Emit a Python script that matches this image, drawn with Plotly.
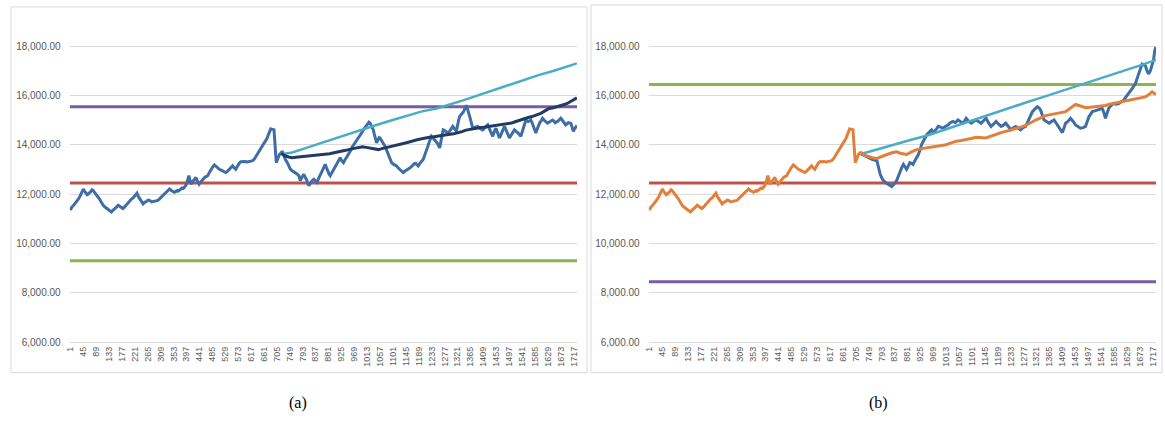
import plotly.graph_objects as go

# ---------------- data ----------------
# shared history (days 1..720), identical in both panels
hist_day = [1, 6, 12, 17, 22, 28, 33, 39, 45, 49, 53, 58, 62, 66, 70, 75, 79, 84, 88, 92, 96, 101, 105,
            109, 113, 119, 125, 133, 141, 146, 152, 158, 164, 170, 175, 180, 186, 190, 195, 199,
            203, 209, 215, 221, 228, 233, 238, 244, 249, 255, 260, 266, 271, 278, 285, 292, 299, 304,
            308, 312, 316, 322, 328, 334, 339, 344, 348, 352, 356, 361, 365, 369, 373, 378, 382, 386,
            390, 394, 398, 402, 405, 409, 412, 416, 420, 425, 429, 432, 435, 438, 440, 443, 446, 449,
            452, 456, 460, 465, 469, 475, 480, 486, 492, 496, 500, 505, 509, 515, 520, 526, 531, 537,
            542, 548, 554, 557, 560, 563, 565, 569, 573, 578, 582, 589, 596, 603, 610, 615, 620, 624,
            627, 632, 638, 643, 647, 651, 655, 659, 663, 668, 672, 675, 678, 681, 684, 687, 690, 693,
            695, 697, 699, 701, 703, 706, 708, 710, 712, 715, 717, 720]
hist_val = [11350, 11480, 11550, 11620, 11680, 11800, 11900, 12080, 12210, 12130, 12050, 11980, 12010,
            12080, 12100, 12180, 12150, 12060, 12000, 11950, 11880, 11790, 11700, 11610, 11550, 11480,
            11420, 11330, 11280, 11350, 11400, 11470, 11550, 11500, 11450, 11420, 11480, 11540, 11600,
            11680, 11750, 11800, 11850, 11960, 12040, 11900, 11800, 11680, 11610, 11680, 11700, 11760,
            11750, 11690, 11700, 11730, 11750, 11800, 11850, 11900, 11950, 12040, 12100, 12170, 12210,
            12160, 12120, 12100, 12080, 12120, 12150, 12130, 12170, 12220, 12250, 12230, 12280, 12350,
            12450, 12600, 12750, 12550, 12410, 12480, 12550, 12620, 12680, 12580, 12500, 12450, 12410,
            12460, 12500, 12560, 12610, 12660, 12700, 12720, 12750, 12880, 13000, 13100, 13190, 13140,
            13100, 13050, 13010, 12980, 12950, 12900, 12880, 12940, 13000, 13080, 13150, 13100, 13050,
            13030, 13010, 13100, 13200, 13280, 13320, 13340, 13330, 13310, 13320, 13330, 13350, 13380,
            13410, 13500, 13610, 13700, 13800, 13880, 13950, 14020, 14100, 14200, 14280, 14380, 14500,
            14580, 14650, 14640, 14620, 14630, 14650, 14350, 14000, 13650, 13280, 13380, 13450, 13530,
            13610, 13640, 13650, 13680]

# panel (a): actual after day 720
a_act_day = [723, 729, 734, 740, 745, 751, 757, 762, 768, 774, 780, 785, 791, 797, 801, 806, 810, 814,
             818, 822, 826, 831, 836, 842, 846, 850, 855, 859, 864, 870, 874, 878, 883, 887,
             892, 896, 900, 904, 909, 913, 917, 921, 926, 932, 936, 940, 945, 949, 954, 958, 962, 966,
             971, 975, 979, 983, 988, 992, 996, 1000, 1005, 1010, 1015, 1019, 1023, 1027, 1031, 1034,
             1037, 1040, 1043, 1045, 1048, 1051, 1054, 1057, 1061, 1065, 1070, 1074, 1080, 1085, 1090,
             1096, 1101, 1105, 1109, 1113, 1119, 1125, 1130, 1136, 1140, 1145, 1149, 1153, 1158, 1162,
             1166, 1170, 1174, 1178, 1183, 1187, 1191, 1195, 1200, 1204, 1207, 1210, 1213, 1215, 1220,
             1224, 1228, 1232, 1236, 1240, 1245, 1249, 1252, 1255, 1258, 1260, 1263, 1266, 1269, 1272,
             1276, 1280, 1285, 1289, 1293, 1297, 1301, 1305, 1308, 1311, 1314, 1317, 1320, 1322, 1325,
             1328, 1333, 1339, 1342, 1345, 1348, 1351, 1354, 1357, 1360, 1362, 1365, 1368, 1371, 1373,
             1377, 1381, 1386, 1390, 1394, 1398, 1403, 1407, 1411, 1415, 1420, 1424, 1428, 1432, 1437,
             1441, 1444, 1446, 1449, 1452, 1455, 1458, 1461, 1464, 1468, 1472, 1477, 1481, 1486, 1490,
             1494, 1498, 1502, 1506, 1511, 1515, 1520, 1526, 1532, 1537, 1541, 1545, 1550, 1554, 1558,
             1562, 1567, 1571, 1576, 1580, 1584, 1588, 1591, 1594, 1597, 1599, 1602, 1605, 1608, 1611,
             1616, 1620, 1624, 1628, 1633, 1637, 1641, 1645, 1650, 1654, 1658, 1662, 1667, 1673, 1677,
             1682, 1686, 1690, 1695, 1699, 1703, 1707, 1710, 1712, 1714, 1716, 1719, 1722, 1725, 1728]
a_act_val = [13750, 13560, 13410, 13300, 13150, 13020, 12950, 12920, 12880, 12820, 12750, 12550, 12700,
             12810, 12700, 12600, 12450, 12350, 12420, 12500, 12560, 12610, 12530, 12480, 12600, 12700,
             12800, 12880, 13050, 13210, 13080, 12950, 12820, 12750, 12860, 12950, 13030, 13080, 13200,
             13300, 13400, 13480, 13360, 13280, 13370, 13450, 13530, 13610, 13700, 13800, 13920, 14010,
             14090, 14150, 14220, 14280, 14370, 14450, 14520, 14610, 14680, 14750, 14850, 14920, 14880,
             14800, 14700, 14610, 14450, 14300, 14180, 14080, 14170, 14250, 14300, 14280, 14180, 14100,
             14020, 13950, 13780, 13600, 13430, 13280, 13230, 13200, 13180, 13150, 13060, 13000, 12940,
             12880, 12920, 12950, 12980, 13010, 13060, 13100, 13160, 13210, 13240, 13250, 13200, 13150,
             13220, 13300, 13360, 13410, 13500, 13600, 13700, 13810, 13950, 14100, 14230, 14350, 14300,
             14250, 14200, 14150, 14070, 14000, 13940, 13880, 14050, 14300, 14450, 14610, 14590, 14550,
             14510, 14480, 14540, 14600, 14680, 14750, 14700, 14650, 14600, 14550, 14720, 14900, 15020,
             15150, 15220, 15280, 15360, 15450, 15530, 15610, 15500, 15400, 15300, 15210, 15050, 14900,
             14780, 14680, 14700, 14720, 14740, 14750, 14700, 14650, 14630, 14610, 14650, 14700, 14760,
             14810, 14700, 14600, 14480, 14350, 14450, 14550, 14620, 14680, 14560, 14450, 14360, 14280,
             14390, 14500, 14620, 14750, 14620, 14500, 14390, 14280, 14360, 14450, 14530, 14610, 14560,
             14500, 14430, 14350, 14520, 14700, 14850, 15010, 14980, 14950, 14980, 15010, 14880, 14750,
             14620, 14480, 14590, 14700, 14800, 14880, 14920, 14950, 15010, 15080, 15010, 14950, 14920,
             14880, 14920, 14950, 14980, 15010, 14960, 14900, 14930, 14950, 15010, 15080, 15020, 14950,
             14880, 14810, 14860, 14900, 14890, 14880, 14790, 14700, 14620, 14550, 14630, 14700, 14750,
             14790]

# panel (a): forecast (dark navy) and upper trend (cyan)
a_fc_day = [720, 728, 735, 745, 757, 770, 790, 810, 830, 850, 870, 885, 900, 920, 940, 960, 983, 997,
            1010, 1020, 1030, 1040, 1051, 1063, 1075, 1085, 1096, 1110, 1125, 1140, 1153, 1166, 1180,
            1195, 1209, 1225, 1240, 1253, 1266, 1280, 1295, 1308, 1322, 1336, 1350, 1365, 1379, 1395,
            1410, 1422, 1435, 1450, 1465, 1478, 1492, 1506, 1520, 1534, 1548, 1562, 1575, 1590, 1605,
            1619, 1633, 1648, 1662, 1671, 1680, 1688, 1695, 1703, 1710, 1719, 1728]
a_fc_val = [13650, 13590, 13550, 13510, 13480, 13500, 13520, 13540, 13560, 13590, 13610, 13640, 13680,
            13720, 13780, 13840, 13900, 13920, 13900, 13880, 13850, 13830, 13810, 13850, 13880, 13910,
            13950, 13990, 14020, 14070, 14110, 14160, 14200, 14240, 14280, 14310, 14330, 14360, 14390,
            14410, 14430, 14450, 14480, 14540, 14600, 14640, 14680, 14700, 14720, 14740, 14750, 14770,
            14800, 14820, 14840, 14890, 14950, 15010, 15080, 15110, 15150, 15210, 15280, 15380, 15480,
            15510, 15550, 15580, 15620, 15650, 15680, 15730, 15780, 15840, 15910]
a_trend_day = [720, 757, 800, 850, 900, 950, 983, 1050, 1100, 1150, 1200, 1250, 1275, 1300, 1350, 1400,
               1435, 1500, 1550, 1600, 1650, 1700, 1728]
a_trend_val = [13620, 13690, 13860, 14060, 14260, 14460, 14590, 14830, 15010, 15190, 15360, 15480, 15560,
               15660, 15850, 16050, 16200, 16450, 16650, 16840, 17010, 17200, 17310]
a_levels = {"purple": 15550, "red": 12450, "green": 9300}

# panel (b): actual after day 720
b_act_day = [720, 728, 737, 748, 760, 770, 777, 782, 788, 794, 799, 808, 816, 822, 827, 835, 844, 850,
             856, 862, 867, 872, 878, 884, 889, 895, 900, 908, 918, 924, 929, 935, 940, 946, 952, 958,
             963, 969, 974, 980, 986, 994, 1002, 1010, 1019, 1027, 1036, 1044, 1053, 1061, 1070, 1076,
             1081, 1090, 1098, 1106, 1115, 1123, 1132, 1140, 1149, 1157, 1166, 1175, 1183, 1191, 1200,
             1208, 1216, 1225, 1233, 1242, 1250, 1258, 1267, 1275, 1284, 1290, 1296, 1302, 1307, 1315,
             1324, 1330, 1335, 1341, 1347, 1355, 1364, 1372, 1381, 1390, 1398, 1404, 1409, 1415, 1420,
             1428, 1437, 1446, 1454, 1462, 1471, 1480, 1488, 1494, 1500, 1506, 1511, 1520, 1528, 1536,
             1545, 1551, 1556, 1562, 1567, 1575, 1584, 1592, 1601, 1610, 1618, 1626, 1635, 1641, 1647,
             1653, 1658, 1664, 1669, 1675, 1681, 1687, 1692, 1698, 1703, 1709, 1715, 1720, 1724, 1728]
b_act_val = [13680, 13600, 13550, 13480, 13410, 13380, 13350, 13100, 12810, 12650, 12550, 12450, 12410,
             12350, 12310, 12400, 12550, 12750, 12950, 13100, 13210, 13100, 13010, 13150, 13280, 13250,
             13210, 13400, 13610, 13800, 14010, 14150, 14280, 14400, 14480, 14550, 14610, 14500, 14550,
             14650, 14750, 14700, 14680, 14750, 14810, 14900, 14950, 14900, 15010, 14950, 14880, 14980,
             15080, 14950, 14880, 14950, 15010, 14950, 14880, 14980, 15080, 14900, 14750, 14850, 14950,
             14850, 14750, 14800, 14880, 14750, 14610, 14700, 14750, 14680, 14610, 14700, 14750, 14900,
             15080, 15250, 15350, 15450, 15550, 15500, 15410, 15200, 15010, 14950, 14880, 14950, 15010,
             14850, 14680, 14600, 14500, 14700, 14880, 14950, 15080, 14950, 14810, 14750, 14680, 14700,
             14750, 14950, 15150, 15250, 15350, 15380, 15410, 15450, 15480, 15300, 15080, 15300, 15480,
             15600, 15680, 15650, 15680, 15750, 15810, 15950, 16080, 16200, 16280, 16400, 16480, 16700,
             16880, 17100, 17280, 17250, 17210, 17000, 16880, 17000, 17210, 17450, 17810, 17980]

# panel (b): forecast (orange) and upper trend (cyan)
b_fc_day = [720, 730, 743, 760, 777, 795, 811, 828, 844, 860, 878, 895, 912, 930, 946, 963, 980, 997,
            1013, 1030, 1047, 1064, 1081, 1098, 1115, 1132, 1149, 1166, 1183, 1200, 1216, 1233, 1250,
            1267, 1284, 1300, 1318, 1335, 1352, 1369, 1386, 1403, 1420, 1437, 1454, 1471, 1488, 1505,
            1522, 1539, 1556, 1573, 1590, 1607, 1624, 1641, 1658, 1675, 1692, 1705, 1715, 1722, 1728]
b_fc_val = [13720, 13600, 13550, 13480, 13450, 13550, 13610, 13680, 13720, 13650, 13610, 13720, 13810,
            13850, 13880, 13920, 13950, 13980, 14010, 14080, 14150, 14180, 14210, 14260, 14310, 14290,
            14280, 14360, 14440, 14500, 14550, 14600, 14680, 14720, 14790, 14900, 15010, 15100, 15190,
            15230, 15280, 15300, 15350, 15500, 15640, 15580, 15510, 15530, 15550, 15560, 15600, 15660,
            15700, 15740, 15790, 15830, 15850, 15900, 15950, 16050, 16150, 16100, 16040]
b_trend_day = [720, 760, 833, 900, 946, 1000, 1059, 1120, 1172, 1230, 1285, 1340, 1398, 1455, 1511, 1570,
               1624, 1680, 1728]
b_trend_val = [13620, 13760, 13990, 14230, 14370, 14590, 14810, 15060, 15280, 15500, 15720, 15930, 16150,
               16390, 16610, 16830, 17020, 17250, 17450]
b_levels = {"green": 16450, "red": 12450, "purple": 8450}

tick_days = list(range(1, 1718, 44))
tick_labels = [str(d) for d in tick_days]
y_ticks = [6000, 8000, 10000, 12000, 14000, 16000, 18000]

# ---------------- styling ----------------
C_BLUE = "#3F6DA6"
C_NAVY = "#213C63"
C_CYAN = "#4BACC6"
C_ORANGE = "#E2803A"
C_PURPLE = "#7A5CA0"
C_RED = "#C0504D"
C_GREEN = "#8DB54B"
GRID = "#DADADA"
TXT = "#595959"

W, H = 1165, 423
fig = go.Figure()

def level_trace(val, color, xa, ya):
    return go.Scatter(x=[hist_day[0] - 2, a_act_day[-1] + 2], y=[val, val], mode="lines",
                      line=dict(color=color, width=3), xaxis=xa, yaxis=ya, hoverinfo="skip")

# panel (a)
fig.add_trace(level_trace(a_levels["purple"], C_PURPLE, "x", "y"))
fig.add_trace(level_trace(a_levels["red"], C_RED, "x", "y"))
fig.add_trace(level_trace(a_levels["green"], C_GREEN, "x", "y"))
fig.add_trace(go.Scatter(x=hist_day + a_act_day, y=hist_val + a_act_val, mode="lines",
                         line=dict(color=C_BLUE, width=3), xaxis="x", yaxis="y"))
fig.add_trace(go.Scatter(x=a_trend_day, y=a_trend_val, mode="lines",
                         line=dict(color=C_CYAN, width=2.5), xaxis="x", yaxis="y"))
fig.add_trace(go.Scatter(x=a_fc_day, y=a_fc_val, mode="lines",
                         line=dict(color=C_NAVY, width=3), xaxis="x", yaxis="y"))

# panel (b)
fig.add_trace(level_trace(b_levels["green"], C_GREEN, "x2", "y2"))
fig.add_trace(level_trace(b_levels["red"], C_RED, "x2", "y2"))
fig.add_trace(level_trace(b_levels["purple"], C_PURPLE, "x2", "y2"))
fig.add_trace(go.Scatter(x=b_act_day, y=b_act_val, mode="lines",
                         line=dict(color=C_BLUE, width=3), xaxis="x2", yaxis="y2"))
fig.add_trace(go.Scatter(x=b_trend_day, y=b_trend_val, mode="lines",
                         line=dict(color=C_CYAN, width=2.5), xaxis="x2", yaxis="y2"))
fig.add_trace(go.Scatter(x=hist_day + b_fc_day, y=hist_val + b_fc_val, mode="lines",
                         line=dict(color=C_ORANGE, width=3), xaxis="x2", yaxis="y2"))

y0 = (H - 347) / H
y1 = (H - 22) / H
xr = [-1.5, 1728.5]
yr = [6000, 19000]

xaxis_common = dict(range=xr, tickmode="array", tickvals=tick_days, ticktext=tick_labels,
                    tickangle=-90, tickfont=dict(size=9, color=TXT, family="Liberation Sans"),
                    showgrid=False, zeroline=False, showline=True, linecolor=GRID, linewidth=1,
                    ticks="", fixedrange=True)
yaxis_common = dict(range=yr, tickmode="array", tickvals=y_ticks, tickformat=",.2f",
                    tickfont=dict(size=10, color=TXT, family="Liberation Sans"),
                    showgrid=True, gridcolor=GRID, gridwidth=1, zeroline=False, showline=False,
                    ticks="", ticklabelstandoff=8, fixedrange=True)

fig.update_layout(
    width=W, height=H, margin=dict(l=0, r=0, t=0, b=0),
    paper_bgcolor="white", plot_bgcolor="white", showlegend=False,
    xaxis=dict(domain=[66 / W, 576 / W], anchor="y", **xaxis_common),
    yaxis=dict(domain=[y0, y1], anchor="x", **yaxis_common),
    xaxis2=dict(domain=[648 / W, 1158 / W], anchor="y2", **xaxis_common),
    yaxis2=dict(domain=[y0, y1], anchor="x2", **yaxis_common),
    shapes=[
        dict(type="rect", xref="paper", yref="paper", x0=7 / W, x1=586 / W,
             y0=(H - 378) / H, y1=(H - 7) / H, line=dict(color="#D9D9D9", width=1)),
        dict(type="rect", xref="paper", yref="paper", x0=590 / W, x1=1164 / W,
             y0=(H - 378) / H, y1=(H - 5) / H, line=dict(color="#D9D9D9", width=1)),
    ],
    annotations=[
        dict(text="(a)", x=296 / W, y=(H - 409) / H, xref="paper", yref="paper",
             xanchor="center", yanchor="middle", showarrow=False,
             font=dict(family="Liberation Serif", size=16, color="black")),
        dict(text="(b)", x=879 / W, y=(H - 409) / H, xref="paper", yref="paper",
             xanchor="center", yanchor="middle", showarrow=False,
             font=dict(family="Liberation Serif", size=16, color="black")),
    ],
)

fig.write_html("out.html", config={"displayModeBar": False},
               post_script="document.body.style.margin='0';document.body.style.overflow='hidden';")
